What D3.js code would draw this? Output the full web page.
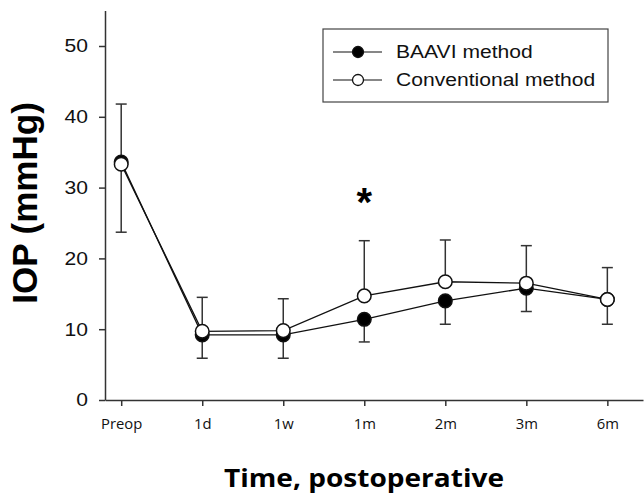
<!DOCTYPE html>
<html>
<head>
<meta charset="utf-8">
<script src="https://cdn.jsdelivr.net/npm/d3@7"></script>
<style>
  body { margin: 0; background: #fff; }
  svg { display: block; }
</style>
</head>
<body>
<svg id="chart"></svg>
<script>
// data
const timepoints = ["Preop", "1d", "1w", "1m", "2m", "3m", "6m"];
const baaviMean = [33.6, 9.2, 9.2, 11.4, 14.0, 15.8, 14.2];
const baaviSD = [9.9, 3.3, 3.3, 3.2, 3.3, 3.3, 3.5];
const convMean = [33.3, 9.7, 9.8, 14.7, 16.7, 16.5, 14.2];
const convSD = [8.5, 4.8, 4.5, 7.8, 5.9, 5.3, 4.5];
const yTicks = [0, 10, 20, 30, 40, 50];

const width = 644;
const height = 495;
// the source figure is slightly stretched sideways
const stretch = 1.14;

const svg = d3.select("#chart").attr("width", width).attr("height", height);

const x = d3.scaleLinear().domain([-0.2, 6.44]).range([105, 643]);
const y = d3.scaleLinear().domain([0, 55]).range([400, 10.6]);

const axisColor = "#333";
const arial = "Liberation Sans, Arial, sans-serif";
const segoe = "Open Sans, sans-serif";

// y axis
const yAxis = d3.axisLeft(y).tickValues(yTicks).tickSize(6).tickPadding(0).tickSizeOuter(0);
const gy = svg.append("g").attr("transform", "translate(105,0)").call(yAxis);
gy.select(".domain").attr("stroke", axisColor).attr("stroke-width", 1.5);
gy.selectAll(".tick line").attr("stroke", axisColor).attr("stroke-width", 1.5);
gy.selectAll(".tick text")
  .attr("x", -17 / stretch)
  .attr("transform", `scale(${stretch},1)`)
  .attr("fill", "#111")
  .style("font-family", arial)
  .style("font-size", "18.5px");

// x axis
const xAxis = d3.axisBottom(x)
  .tickValues(d3.range(timepoints.length))
  .tickFormat((i) => timepoints[i])
  .tickSize(6)
  .tickPadding(13)
  .tickSizeOuter(0);
const gx = svg.append("g").attr("transform", "translate(0,400)").call(xAxis);
gx.select(".domain").attr("stroke", axisColor).attr("stroke-width", 1.5);
gx.selectAll(".tick line").attr("stroke", axisColor).attr("stroke-width", 1.5);
gx.selectAll(".tick text")
  .attr("transform", "scale(1.06,1)")
  .attr("fill", "#111")
  .style("font-family", segoe)
  .style("font-size", "14px");

// axis titles
svg.append("text")
  .attr("transform", "translate(37,203) rotate(-90)")
  .attr("text-anchor", "middle")
  .style("font-family", arial)
  .style("font-weight", "bold")
  .style("font-size", "35px")
  .attr("fill", "#000")
  .text("IOP (mmHg)");

svg.append("g")
  .attr("transform", `translate(364,487) scale(1.1,1)`)
  .append("text")
  .attr("text-anchor", "middle")
  .style("font-family", segoe)
  .style("font-weight", "bold")
  .style("font-size", "25.5px")
  .attr("fill", "#000")
  .text("Time, postoperative");

// error bars: BAAVI downward, conventional upward
const capW = 5.5;
function errorBars(mean, sd, dir, cls) {
  const g = svg.append("g").attr("class", cls);
  const data = mean.map((m, i) => ({ i, m, e: m + dir * sd[i] }));
  g.selectAll("line.stem")
    .data(data)
    .join("line")
    .attr("class", "stem")
    .attr("x1", (d) => x(d.i))
    .attr("x2", (d) => x(d.i))
    .attr("y1", (d) => y(d.m))
    .attr("y2", (d) => y(d.e))
    .attr("stroke", axisColor)
    .attr("stroke-width", 1.5);
  g.selectAll("line.cap")
    .data(data)
    .join("line")
    .attr("class", "cap")
    .attr("x1", (d) => x(d.i) - capW)
    .attr("x2", (d) => x(d.i) + capW)
    .attr("y1", (d) => y(d.e))
    .attr("y2", (d) => y(d.e))
    .attr("stroke", axisColor)
    .attr("stroke-width", 1.5);
}
errorBars(baaviMean, baaviSD, -1, "err-baavi");
errorBars(convMean, convSD, 1, "err-conv");

const line = d3.line().x((d, i) => x(i)).y((d) => y(d));

function series(mean, fill, cls) {
  const g = svg.append("g").attr("class", cls);
  g.append("path")
    .datum(mean)
    .attr("d", line)
    .attr("fill", "none")
    .attr("stroke", "#111")
    .attr("stroke-width", 1.3);
  g.selectAll("circle")
    .data(mean)
    .join("circle")
    .attr("cx", (d, i) => x(i))
    .attr("cy", (d) => y(d))
    .attr("r", 6.8)
    .attr("fill", fill)
    .attr("stroke", "#111")
    .attr("stroke-width", 1.5);
}
series(baaviMean, "#000", "baavi");
series(convMean, "#fff", "conv");

// significance marker
svg.append("text")
  .attr("x", x(3))
  .attr("y", 216)
  .attr("text-anchor", "middle")
  .style("font-family", arial)
  .style("font-weight", "bold")
  .style("font-size", "40px")
  .attr("fill", "#000")
  .text("*");

// legend
const legendItems = [
  { label: "BAAVI method", fill: "#000" },
  { label: "Conventional method", fill: "#fff" },
];
const legend = svg.append("g").attr("transform", "translate(323,29)");
legend.append("rect")
  .attr("width", 285)
  .attr("height", 73)
  .attr("fill", "#fff")
  .attr("stroke", "#444")
  .attr("stroke-width", 1.2);
const li = legend.selectAll("g.item")
  .data(legendItems)
  .join("g")
  .attr("class", "item")
  .attr("transform", (d, i) => `translate(0,${23 + i * 28})`);
li.append("line")
  .attr("x1", 10).attr("x2", 59)
  .attr("stroke", "#111").attr("stroke-width", 1.2);
li.append("circle")
  .attr("cx", 35).attr("r", 5.5)
  .attr("fill", (d) => d.fill)
  .attr("stroke", "#111").attr("stroke-width", 1.3);
li.append("text")
  .attr("transform", `translate(73,0) scale(${stretch},1)`)
  .attr("dy", "0.35em")
  .style("font-family", arial)
  .style("font-size", "18.5px")
  .attr("fill", "#111")
  .text((d) => d.label);
</script>
</body>
</html>
